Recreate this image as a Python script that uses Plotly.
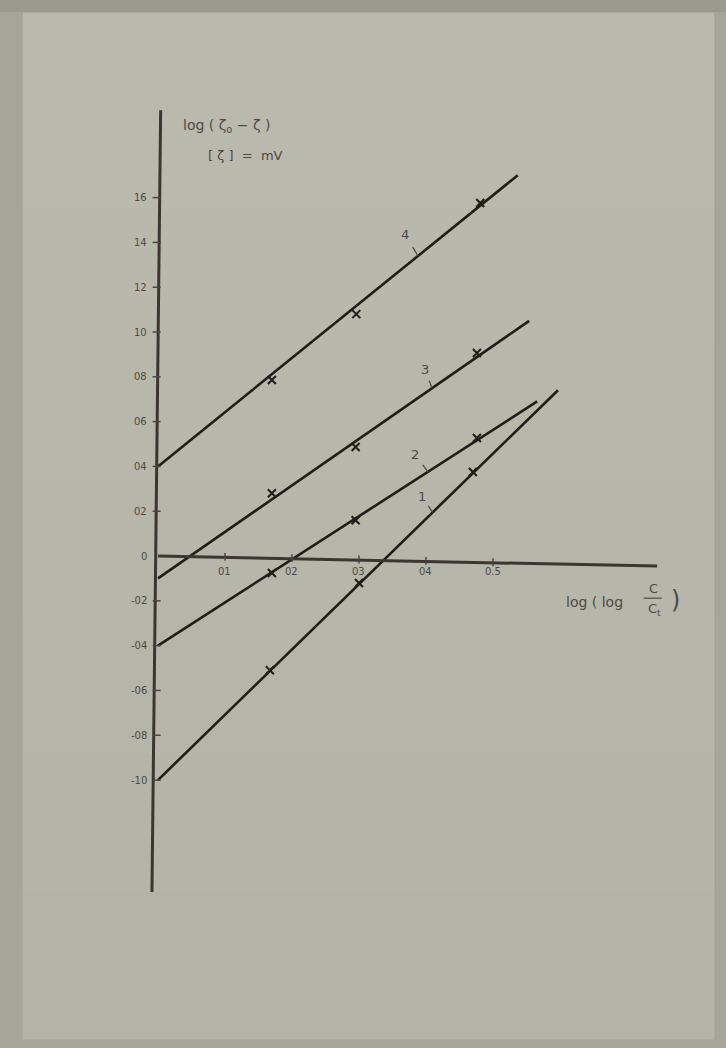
import plotly.graph_objects as go

# ---------------- data ----------------
series_names = ["1", "2", "3", "4"]

# straight fitted lines: start at x = 0, end point
line_x_start = [0.0, 0.0, 0.0, 0.0]
line_y_start = [-1.00, -0.40, -0.10, 0.40]
line_x_end = [0.597, 0.566, 0.554, 0.537]
line_y_end = [0.74, 0.69, 1.05, 1.70]

# measured points (crosses)
pts_x_1 = [0.167, 0.300, 0.470]
pts_y_1 = [-0.51, -0.12, 0.375]
pts_x_2 = [0.170, 0.295, 0.476]
pts_y_2 = [-0.076, 0.16, 0.527]
pts_x_3 = [0.170, 0.295, 0.476]
pts_y_3 = [0.28, 0.487, 0.906]
pts_x_4 = [0.170, 0.296, 0.481]
pts_y_4 = [0.786, 1.08, 1.576]

# where the curve number is attached on each line
label_x = [0.410, 0.403, 0.409, 0.388]

# tick labels as written on the sheet
y_tick_vals = [1.6, 1.4, 1.2, 1.0, 0.8, 0.6, 0.4, 0.2, 0.0, -0.2, -0.4, -0.6, -0.8, -1.0]
y_tick_text = ["16", "14", "12", "10", "08", "06", "04", "02", "0", "-02", "-04", "-06", "-08", "-10"]
x_tick_vals = [0.1, 0.2, 0.3, 0.4, 0.5]
x_tick_text = ["01", "02", "03", "04", "0.5"]

# ---------------- figure ----------------
INK = "#1f1c19"
PENCIL = "#4d4a44"
FONT = "DejaVu Sans"
PX_X = 670.0   # pixels per x unit
PX_Y = 224.0   # pixels per y unit

pts_x = [pts_x_1, pts_x_2, pts_x_3, pts_x_4]
pts_y = [pts_y_1, pts_y_2, pts_y_3, pts_y_4]

fig = go.Figure()

for i in range(4):
    fig.add_trace(go.Scatter(
        x=[line_x_start[i], line_x_end[i]],
        y=[line_y_start[i], line_y_end[i]],
        mode="lines",
        line=dict(color=INK, width=2.6),
        name=series_names[i],
        hoverinfo="skip",
    ))
    fig.add_trace(go.Scatter(
        x=pts_x[i], y=pts_y[i],
        mode="markers",
        marker=dict(symbol="x-thin", size=8, line=dict(color=INK, width=2)),
        name=series_names[i] + " points",
    ))

shapes = []
# sheet of paper
shapes.append(dict(type="rect", xref="paper", yref="paper",
                   x0=22 / 726, x1=715 / 726, y0=1 - 1040 / 1048, y1=1 - 12 / 1048,
                   fillcolor="#b4b3a7", line=dict(width=1, color="#a3a296"), layer="below"))
# soft lighter gradient toward the top of the sheet
for k in range(6):
    shapes.append(dict(type="rect", xref="paper", yref="paper",
                       x0=23 / 726, x1=714 / 726, y0=0.15 + 0.13 * k, y1=1 - 13 / 1048,
                       fillcolor="rgba(194,194,182,0.10)", line=dict(width=0), layer="below"))
# dark strip at the top of the scan
shapes.append(dict(type="rect", xref="paper", yref="paper",
                   x0=0, x1=1, y0=1 - 12 / 1048, y1=1,
                   fillcolor="#9a998d", line=dict(width=0), layer="below"))

# hand drawn axes
shapes.append(dict(type="line", xref="x", yref="y", x0=0.004, y0=1.99, x1=-0.009, y1=-1.50,
                   line=dict(color="#3b3631", width=3)))
shapes.append(dict(type="line", xref="x", yref="y", x0=0.0, y0=0.0, x1=0.745, y1=-0.045,
                   line=dict(color="#3b3631", width=3)))

# tick marks
for v in y_tick_vals:
    if v != 0:
        shapes.append(dict(type="line", xref="x", yref="y", x0=-0.008, x1=0.004, y0=v, y1=v,
                           line=dict(color="#4a4540", width=1.5)))
for v in x_tick_vals:
    yy = -0.045 * v / 0.745
    shapes.append(dict(type="line", xref="x", yref="y", x0=v, x1=v, y0=yy - 0.015, y1=yy + 0.02,
                       line=dict(color="#4a4540", width=1.5)))

# fraction bar in x title
shapes.append(dict(type="line", xref="x", yref="y", x0=0.725, x1=0.752, y0=-0.188, y1=-0.188,
                   line=dict(color=PENCIL, width=1.2)))

annotations = []
for v, t in zip(y_tick_vals, y_tick_text):
    annotations.append(dict(x=-0.013, y=v, xref="x", yref="y", text=t, showarrow=False,
                            xanchor="right", yanchor="middle",
                            font=dict(family=FONT, size=10, color=PENCIL)))
for v, t in zip(x_tick_vals, x_tick_text):
    annotations.append(dict(x=v, y=-0.035, xref="x", yref="y", text=t, showarrow=False,
                            xanchor="center", yanchor="top",
                            font=dict(family=FONT, size=10, color=PENCIL)))

# curve numbers with small leader strokes (offsets in pixels: label relative to line point)
label_offsets = [(-11, -16), (-13, -17), (-7, -19), (-13, -22)]
for i in range(4):
    lx = label_x[i]
    ly = line_y_start[i] + (line_y_end[i] - line_y_start[i]) / (line_x_end[i] - line_x_start[i]) * (lx - line_x_start[i])
    ox, oy = label_offsets[i]
    tx = lx + ox / PX_X
    ty = ly - oy / PX_Y
    shapes.append(dict(type="line", xref="x", yref="y",
                       x0=lx, y0=ly, x1=lx + 0.4 * ox / PX_X, y1=ly - 0.4 * oy / PX_Y,
                       line=dict(color=PENCIL, width=1.3)))
    annotations.append(dict(x=tx, y=ty, xref="x", yref="y", text=series_names[i],
                            showarrow=False, xanchor="center", yanchor="middle",
                            font=dict(family=FONT, size=13, color=PENCIL)))

# axis titles
annotations.append(dict(x=0.034, y=1.92, xref="x", yref="y", xanchor="left", yanchor="middle",
                        text="log ( ζ<sub>o</sub> − ζ )", showarrow=False,
                        font=dict(family=FONT, size=14, color=PENCIL)))
annotations.append(dict(x=0.072, y=1.79, xref="x", yref="y", xanchor="left", yanchor="middle",
                        text="[ ζ ]  =  mV", showarrow=False,
                        font=dict(family=FONT, size=13, color=PENCIL)))
annotations.append(dict(x=0.606, y=-0.205, xref="x", yref="y", xanchor="left", yanchor="middle",
                        text="log ( log", showarrow=False,
                        font=dict(family=FONT, size=14, color=PENCIL)))
annotations.append(dict(x=0.739, y=-0.145, xref="x", yref="y", xanchor="center", yanchor="middle",
                        text="C", showarrow=False,
                        font=dict(family=FONT, size=13, color=PENCIL)))
annotations.append(dict(x=0.741, y=-0.238, xref="x", yref="y", xanchor="center", yanchor="middle",
                        text="C<sub>t</sub>", showarrow=False,
                        font=dict(family=FONT, size=13, color=PENCIL)))
annotations.append(dict(x=0.773, y=-0.198, xref="x", yref="y", xanchor="center", yanchor="middle",
                        text=")", showarrow=False,
                        font=dict(family=FONT, size=24, color=PENCIL)))

fig.update_layout(
    width=726, height=1048,
    margin=dict(l=0, r=0, t=0, b=0),
    paper_bgcolor="#a6a599",
    plot_bgcolor="rgba(0,0,0,0)",
    showlegend=False,
    xaxis=dict(range=[-0.2358, 0.8478], visible=False, fixedrange=True),
    yaxis=dict(range=[-2.196, 2.482], visible=False, fixedrange=True),
    shapes=shapes,
    annotations=annotations,
)

fig.write_html("out.html", config={"displayModeBar": False},
               post_script="document.body.style.margin='0';document.body.style.overflow='hidden';")
